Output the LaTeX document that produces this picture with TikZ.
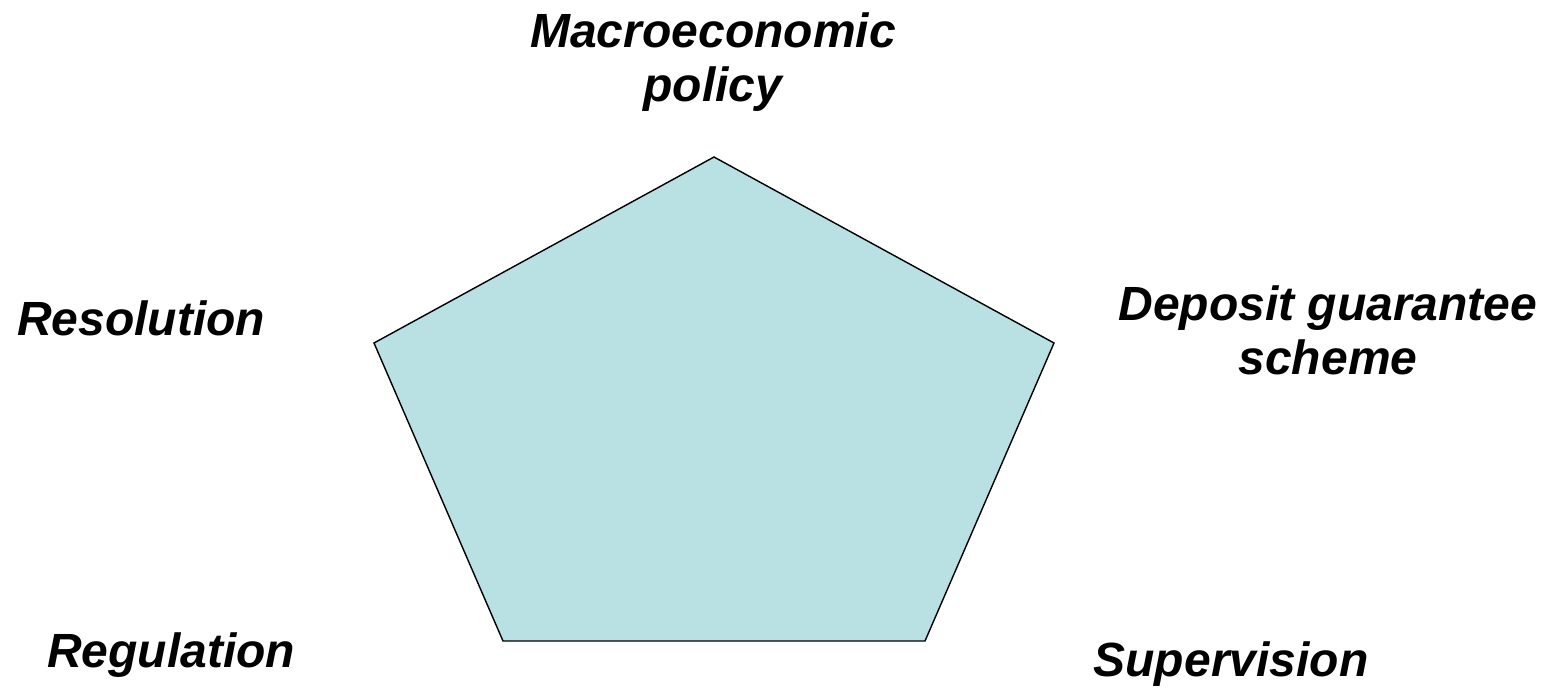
\documentclass[tikz,border=0pt]{standalone}
\usepackage{fontspec}
\setmainfont{Liberation Sans}
\definecolor{penta}{RGB}{185,224,227}
\begin{document}
\begin{tikzpicture}[x=1pt,y=-1pt,
  lbl/.style={font=\fontsize{48}{54}\selectfont\bfseries\itshape, inner sep=0pt, anchor=base}]
\useasboundingbox (0,0) rectangle (1551,693);
\coordinate (T) at (714,157);
\coordinate (R) at (1054,343);
\coordinate (BR) at (925,641);
\coordinate (BL) at (503,641);
\coordinate (L) at (374,343);
\filldraw[fill=penta, draw=black, line width=1.4pt, line join=miter] (T) -- (R) -- (BR) -- (BL) -- (L) -- cycle;
\node[lbl] (macro) at (713,48) {Macroeconomic};
\node[lbl] (macro2) at (713,101) {policy};
\node[lbl] (res) at (141,335) {Resolution};
\node[lbl] (dep) at (1328,320) {Deposit guarantee};
\node[lbl] (dep2) at (1328,374) {scheme};
\node[lbl] (reg) at (171,667) {Regulation};
\node[lbl] (sup) at (1231,676) {Supervision};
\end{tikzpicture}
\end{document}
